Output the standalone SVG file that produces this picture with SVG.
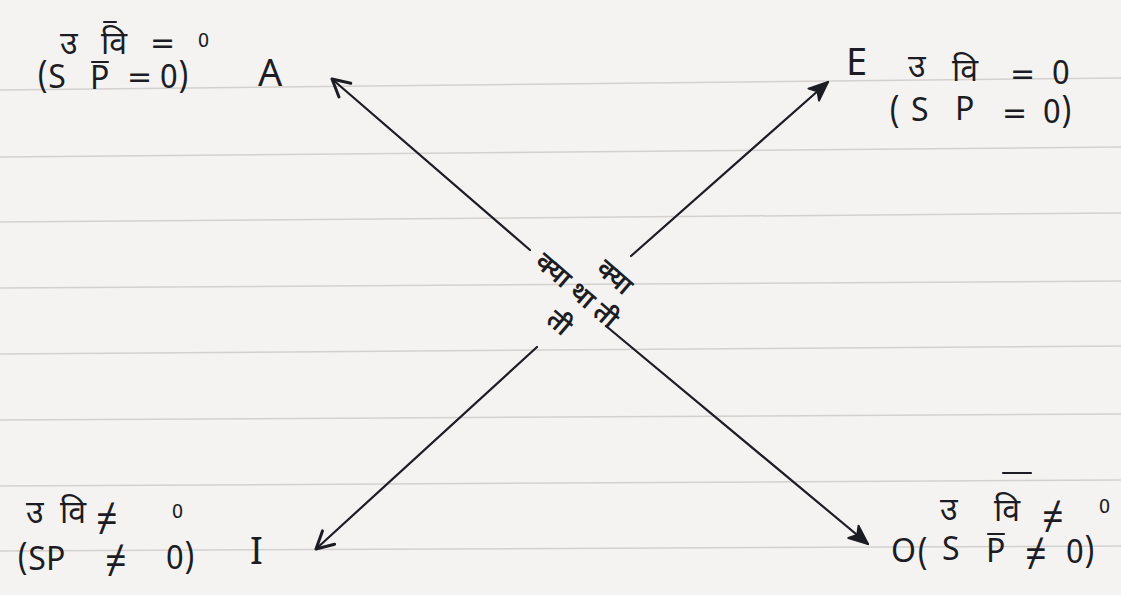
<svg xmlns="http://www.w3.org/2000/svg" width="1121" height="595" viewBox="0 0 1121 595">
<style>
  .t { font-family: "Noto Sans Devanagari", "Noto Sans", "DejaVu Sans", sans-serif; fill: #1c1c24; font-size: 32px; }
  .s { font-size: 20px; }
  .c { font-size: 26px; font-weight: 600; }
  .op { font-family: "DejaVu Sans", sans-serif; font-size: 30px; }
  .ne { font-size: 38px; }
  .big { font-size: 38px; }
  .rule { stroke: #d4d0d0; stroke-width: 1.5; fill: none; }
  .ink { stroke: #1c1c24; stroke-width: 2.2; fill: none; stroke-linecap: round; }
  .bar { stroke: #1c1c24; stroke-width: 2.2; stroke-linecap: round; }
</style>
<defs>
  <marker id="open" viewBox="0 0 24 24" refX="21" refY="12" markerWidth="24" markerHeight="24" markerUnits="userSpaceOnUse" orient="auto">
    <path d="M4,3 L21,12 L4,21" fill="none" stroke="#1c1c24" stroke-width="3" stroke-linecap="round" stroke-linejoin="round"/>
  </marker>
  <marker id="solid" viewBox="0 0 24 24" refX="21" refY="12" markerWidth="24" markerHeight="24" markerUnits="userSpaceOnUse" orient="auto">
    <path d="M2,4 L21,12 L2,20 L7,12 z" fill="#1c1c24" stroke="#1c1c24" stroke-width="2" stroke-linejoin="round"/>
  </marker>
</defs>
<rect width="1121" height="595" fill="#f4f3f1"/>
<g id="paper-rules">
  <path class="rule" d="M0,90 L1121,78"/>
  <path class="rule" d="M0,157 L1121,147"/>
  <path class="rule" d="M0,222 L1121,213"/>
  <path class="rule" d="M0,288 L1121,281"/>
  <path class="rule" d="M0,354 L1121,346"/>
  <path class="rule" d="M0,420 L1121,414"/>
  <path class="rule" d="M0,486 L1121,480"/>
  <path class="rule" d="M0,551 L1121,546"/>
</g>
<g id="connectors">
  <path class="ink" d="M530,250 L332,79" marker-end="url(#open)"/>
  <path class="ink" d="M606,326 L868,544" marker-end="url(#solid)"/>
  <path class="ink" d="M631,256 L828,82" marker-end="url(#solid)"/>
  <path class="ink" d="M537,347 L316,549" marker-end="url(#open)"/>
</g>
<g id="center-label">
  <text class="t c" transform="translate(577,290) rotate(41)" text-anchor="middle"><tspan x="20" y="-26">क्या</tspan><tspan x="0" y="9">क्या था ती</tspan><tspan x="8" y="45">ती</tspan></text>
</g>
<g id="node-A">
  <text class="t"><tspan x="60" y="54">उ</tspan><tspan x="101" y="54">वि</tspan><tspan class="op" x="150" y="53">=</tspan><tspan class="s" x="198" y="47">0</tspan><tspan x="37" y="88">(S</tspan><tspan x="90" y="89">P</tspan><tspan class="op" x="127" y="87">=</tspan><tspan x="160" y="88">0)</tspan></text>
  <line class="bar" x1="104" y1="22" x2="116" y2="22"/>
  <line class="bar" x1="92" y1="62" x2="108" y2="62"/>
  <text class="t big" x="258" y="86">A</text>
</g>
<g id="node-E">
  <text class="t big" x="846" y="75">E</text>
  <text class="t"><tspan x="908" y="77">उ</tspan><tspan x="952" y="81">वि</tspan><tspan class="op" x="1010" y="84">=</tspan><tspan x="1052" y="84">0</tspan><tspan x="889" y="123">(</tspan><tspan x="911" y="121">S</tspan><tspan x="955" y="120">P</tspan><tspan class="op" x="1002" y="123">=</tspan><tspan x="1043" y="123">0)</tspan></text>
</g>
<g id="node-I">
  <text class="t"><tspan x="26" y="523">उ</tspan><tspan x="60" y="523">वि</tspan><tspan class="ne" x="96" y="532">≠</tspan><tspan class="s" x="172" y="518">0</tspan><tspan x="17" y="570">(SP</tspan><tspan class="ne" x="105" y="574">≠</tspan><tspan x="166" y="569">0)</tspan></text>
  <text class="t big" x="250" y="564">I</text>
</g>
<g id="node-O">
  <text class="t"><tspan x="940" y="520">उ</tspan><tspan x="994" y="521">वि</tspan><tspan class="ne" x="1042" y="530">≠</tspan><tspan class="s" x="1099" y="513">0</tspan><tspan x="917" y="565">(</tspan><tspan x="942" y="560">S</tspan><tspan x="986" y="562">P</tspan><tspan class="ne" x="1025" y="567">≠</tspan><tspan x="1066" y="563">0)</tspan></text>
  <line class="bar" x1="1003" y1="473" x2="1031" y2="473"/>
  <line class="bar" x1="988" y1="534" x2="1004" y2="534"/>
  <text class="t" x="891" y="562">O</text>
</g>
</svg>
